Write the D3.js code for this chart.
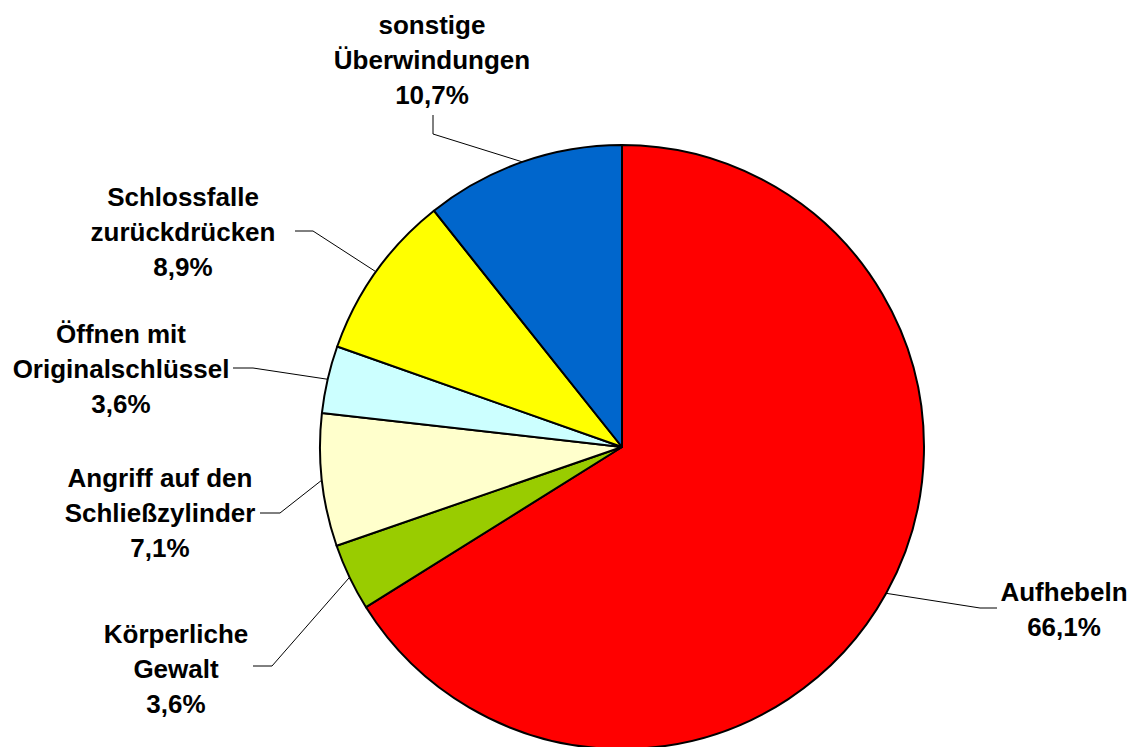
<!DOCTYPE html>
<html><head><meta charset="utf-8">
<script src="https://cdn.jsdelivr.net/npm/d3@7"></script>
<style>body{margin:0;background:#fff}svg{display:block}</style>
</head><body>
<svg id="chart" width="1138" height="747"></svg>
<script>
const categories = ["Aufhebeln", "Körperliche Gewalt", "Angriff auf den Schließzylinder", "Öffnen mit Originalschlüssel", "Schlossfalle zurückdrücken", "sonstige Überwindungen"];
const values = [66.1, 3.6, 7.1, 3.6, 8.9, 10.7];
const labelLines = [["Aufhebeln"], ["Körperliche", "Gewalt"], ["Angriff auf den", "Schließzylinder"], ["Öffnen mit", "Originalschlüssel"], ["Schlossfalle", "zurückdrücken"], ["sonstige", "Überwindungen"]];
const colors = ["#ff0000", "#99cc00", "#ffffcc", "#ccffff", "#ffff00", "#0066cc"];

// layout (label anchor centre x, first line y, elbow point, horizontal end)
const layout = [
  {lx: 1064, ly: 592, ex: 980, ey: 608, hx: 997},
  {lx: 176, ly: 634, ex: 272, ey: 666, hx: 253},
  {lx: 160, ly: 478, ex: 280, ey: 513, hx: 260},
  {lx: 121, ly: 334, ex: 253, ey: 368, hx: 233},
  {lx: 183, ly: 197, ex: 313, ey: 231, hx: 295},
  {lx: 432, ly: 25,  ex: 433, ey: 134, hx: 433, vy: 115}
];

const svg = d3.select("#chart");
const cx = 622, cy = 447, r = 302;
const g = svg.append("g").attr("transform", `translate(${cx},${cy})`);

const pie = d3.pie().sort(null).value(d => d)(values);
const arc = d3.arc().innerRadius(0).outerRadius(r);

g.selectAll("path.slice").data(pie).join("path")
  .attr("class", "slice")
  .attr("d", arc)
  .attr("fill", (d, i) => colors[i])
  .attr("stroke", "#000")
  .attr("stroke-width", 2)
  .attr("stroke-linejoin", "round");

const fmt = v => d3.format(".1f")(v).replace(".", ",") + "%";
const lineH = 35;

pie.forEach((d, i) => {
  const L = layout[i];
  const a = (d.startAngle + d.endAngle) / 2;
  const sx = cx + r * Math.sin(a), sy = cy - r * Math.cos(a);
  let pts;
  if (L.vy !== undefined) pts = [[sx, sy], [L.ex, L.ey], [L.hx, L.vy]];
  else pts = [[sx, sy], [L.ex, L.ey], [L.hx, L.ey]];
  svg.append("path")
    .attr("d", d3.line()(pts))
    .attr("fill", "none").attr("stroke", "#000").attr("stroke-width", 1);

  const lines = labelLines[i].concat([fmt(values[i])]);
  const t = svg.append("text")
    .attr("text-anchor", "middle")
    .attr("font-family", "Liberation Sans, Arial, sans-serif")
    .attr("font-weight", "bold")
    .attr("font-size", 26)
    .attr("fill", "#000");
  lines.forEach((s, k) => {
    t.append("tspan").attr("x", L.lx).attr("y", L.ly + k * lineH).attr("dy", "0.35em").text(s);
  });
});
</script>
</body></html>
